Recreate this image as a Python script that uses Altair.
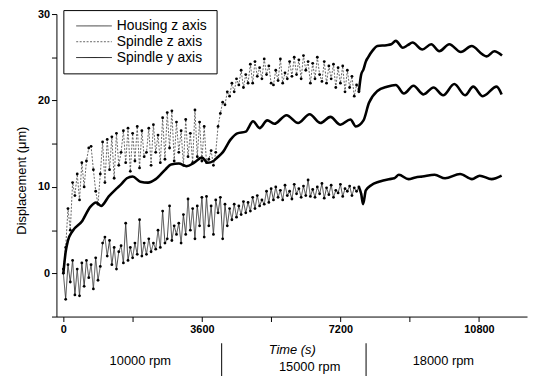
import altair as alt
import pandas as pd

series_names = ["Housing z axis", "Spindle z axis", "Spindle y axis"]

# noisy part sampled every 60 s from t = 0 to 7680 s
step = 60
upper_noisy = [
    0.5, 3.0, 7.5, 5.0, 10.5, 9.0,
    11.5, 8.5, 12.8, 10.0, 13.0, 14.5, 14.7, 12.0, 9.5, 8.0,
    11.5, 15.2, 10.5, 15.5, 12.0, 15.8, 11.0, 16.2, 12.5, 14.0,
    16.5, 12.8, 16.8, 11.8, 16.2, 13.0, 17.0, 12.2, 16.5, 13.5,
    14.0, 16.8, 12.5, 17.2, 14.0, 16.0, 12.8, 18.0, 13.2, 18.6,
    14.5, 18.8, 13.0, 17.5, 14.0, 16.5, 12.5, 17.8, 13.5, 16.2,
    12.8, 18.9, 13.5, 17.5, 13.0, 17.0, 12.8, 13.2, 14.2, 12.5,
    14.0, 17.0, 18.5, 19.8, 19.5, 21.0, 20.5, 22.0, 21.0, 22.5,
    21.8, 23.5, 21.5, 23.0, 22.0, 24.2, 22.0, 24.5, 22.8, 23.8,
    22.5, 24.8, 23.0, 24.0, 22.0, 21.8, 23.5, 22.3, 24.8, 22.0,
    23.2, 22.5, 24.5, 22.8, 25.0, 23.0, 24.7, 22.5, 25.2, 23.5,
    24.5, 22.0, 24.3, 22.5, 25.0, 23.0, 22.2, 24.5, 22.0, 24.0,
    22.5, 24.2, 21.5, 23.8, 22.0, 24.0, 21.0, 23.5, 21.5, 22.8,
    20.5, 21.8, 21.0,
]
upper_tail_t = [7680, 7740, 7800, 7860, 7920, 8040, 8160, 8400, 8520, 8640, 8820, 8950,
                9075, 9330, 9560, 9770, 10030, 10330, 10610, 10900, 11000, 11200, 11400]
upper_tail_v = [21.0, 23.0, 23.6, 24.5, 25.0, 25.8, 26.3, 26.4, 26.5, 26.9, 26.1, 26.4,
                26.7, 25.9, 26.5, 25.7, 26.5, 25.6, 26.3, 25.3, 25.1, 25.7, 25.2]

lower_noisy = [
    0.0, -3.0, 1.0, -1.0, 1.5, -2.5,
    0.5, -2.6, 1.2, -1.5, 1.5, -0.5, 1.0, -1.8, 1.8, -0.8,
    0.8, 3.5, 4.2, 2.0, 3.8, 1.0, 3.0, 0.5, 2.5, 3.2,
    1.2, 5.8, 1.5, 3.0, 1.8, 3.5, 2.2, 6.2, 2.0, 3.5,
    2.2, 4.0, 2.5, 3.5, 2.8, 5.0, 3.0, 7.2, 3.5, 4.0,
    7.8, 3.8, 5.5, 4.5, 5.8, 3.5, 6.8, 4.5, 8.6, 5.0,
    7.5, 4.0, 7.8, 5.5, 8.8, 4.2, 8.9, 5.5, 7.8, 4.5,
    8.5, 7.0, 8.8, 4.0, 8.0, 5.5, 7.5, 6.2, 8.0, 6.5,
    7.8, 6.8, 8.3, 7.0, 8.2, 7.2, 8.8, 7.5, 9.0, 7.8,
    8.5, 8.0, 9.5, 8.2, 9.8, 8.5, 10.0, 8.8, 9.6, 8.5,
    10.2, 9.0, 9.5, 8.6, 10.3, 9.2, 9.8, 8.8, 10.1, 9.0,
    10.8, 8.9, 9.7, 8.8, 10.0, 9.2, 10.4, 8.7, 9.9, 9.1,
    10.2, 8.8, 9.6, 9.3, 10.3, 8.9, 9.8, 9.5, 10.1, 9.0,
    9.9, 9.5, 10.0,
]
lower_tail_t = [7680, 7740, 7790, 7860, 8000, 8200, 8460, 8600, 8720, 8970, 9150, 9330,
                9650, 9920, 10310, 10620, 10820, 11130, 11390]
lower_tail_v = [10.0, 9.2, 8.0, 9.6, 10.2, 10.6, 10.9, 11.0, 11.4, 10.9, 11.1, 11.2,
                11.4, 11.0, 11.5, 10.9, 11.3, 10.9, 11.3]

middle_t = [0, 60, 120, 240, 480, 700, 850, 980, 1180, 1380, 1500, 1650, 1800, 2000,
            2200, 2400, 2650, 2800, 3000, 3200, 3400, 3600, 3750, 3900, 4000, 4140,
            4350, 4520, 4740, 4930, 5100, 5300, 5480, 5800, 6100, 6400, 6680, 6940,
            7200, 7460, 7600, 7800, 7940, 8160, 8410, 8640, 8850, 9100, 9360, 9620,
            9870, 10160, 10440, 10650, 10900, 11260, 11390]
middle_v = [0.0, 2.5, 3.8, 4.9, 6.0, 7.7, 8.2, 7.8, 8.9, 9.8, 10.3, 11.0, 11.2, 10.6,
            10.5, 10.9, 12.0, 12.6, 12.7, 12.4, 12.8, 13.4, 12.8, 13.0, 13.4, 14.0,
            15.5, 16.2, 16.4, 17.6, 16.8, 17.7, 17.3, 18.3, 17.4, 18.4, 17.4, 18.1,
            17.2, 17.8, 17.0, 17.7, 19.7, 21.1, 21.6, 21.8, 20.8, 21.7, 20.7, 21.5,
            20.6, 21.9, 20.6, 21.6, 20.5, 21.6, 20.7]

rpm_labels = ["10000 rpm", "15000 rpm", "18000 rpm"]
rpm_label_t = [2000, 6400, 9875]
rpm_boundaries = [4114, 7867]

noisy_rows = []
for i, v in enumerate(lower_noisy):
    noisy_rows.append((series_names[0], i * step, v))
for i, v in enumerate(upper_noisy):
    noisy_rows.append((series_names[1], i * step, v))
noisy_df = pd.DataFrame(noisy_rows, columns=["series", "t", "v"])

smooth_rows = []
for t, v in zip(lower_tail_t, lower_tail_v):
    smooth_rows.append((series_names[0], t, v))
for t, v in zip(upper_tail_t, upper_tail_v):
    smooth_rows.append((series_names[1], t, v))
for t, v in zip(middle_t, middle_v):
    smooth_rows.append((series_names[2], t, v))
smooth_df = pd.DataFrame(smooth_rows, columns=["series", "t", "v"])

FONT = "Liberation Sans"
xscale = alt.Scale(domain=[-180, 12050], nice=False, zero=False)
yscale = alt.Scale(domain=[-5, 30], nice=False, zero=False)

x_enc = alt.X("t:Q", scale=xscale, axis=alt.Axis(
    values=[0, 1800, 3600, 5400, 7200, 9000, 10800],
    labelExpr="datum.value % 3600 == 0 ? datum.label : ''",
    format="d", title="Time (s)", titleFontStyle="italic", titleFontWeight="normal",
    titleFontSize=13, titleFont=FONT, titlePadding=9,
    labelFont=FONT, labelFontSize=11, labelFontWeight="bold",
    tickSize=5, domainColor="black", tickColor="black", labelColor="black",
    titleColor="black", grid=False))
y_enc = alt.Y("v:Q", scale=yscale, axis=alt.Axis(
    values=[-5, 0, 5, 10, 15, 20, 25, 30],
    labelExpr="datum.value % 10 == 0 ? datum.label : ''",
    title="Displacement (\u03bcm)", titleFontWeight="normal", titleFontSize=13,
    titleFont=FONT, titlePadding=9, titleY=168,
    labelFont=FONT, labelFontSize=11, labelFontWeight="bold",
    tickSize=5, domainColor="black", tickColor="black", labelColor="black",
    titleColor="black", grid=False))

color_enc = alt.Color("series:N", title=None,
                      scale=alt.Scale(domain=series_names, range=["#333333", "#555555", "#000000"]))
width_enc = alt.StrokeWidth("series:N", title=None,
                            scale=alt.Scale(domain=series_names, range=[0.9, 0.9, 2.6]))
dash_enc = alt.StrokeDash("series:N", title=None,
                          scale=alt.Scale(domain=series_names, range=[[1, 0], [2, 1.5], [1, 0]]))

noisy_lines = alt.Chart(noisy_df).mark_line(clip=True).encode(
    x=x_enc, y=y_enc, color=color_enc, strokeWidth=width_enc, strokeDash=dash_enc,
    order=alt.Order("t:Q"),
)
smooth_lines = alt.Chart(smooth_df).mark_line(
    clip=True, interpolate="monotone", color="black", strokeWidth=2.6).encode(
    x="t:Q", y="v:Q", detail="series:N",
    order=alt.Order("t:Q"),
)

points = alt.Chart(noisy_df).mark_circle(size=8, color="black", opacity=1).encode(
    x="t:Q", y="v:Q", detail="series:N")

bounds = alt.Chart(pd.DataFrame({"t": rpm_boundaries})).mark_rule(
    color="black", strokeWidth=1).encode(
    x="t:Q", y=alt.value(333), y2=alt.value(368))

rpm_df = pd.DataFrame({"t": rpm_label_t, "label": rpm_labels})
rpm_outer = alt.Chart(rpm_df).transform_filter(
    "datum.label != '15000 rpm'").mark_text(
    font=FONT, fontSize=13, color="black", align="center", baseline="middle").encode(
    x="t:Q", y=alt.value(351), text="label:N")
rpm_mid = alt.Chart(rpm_df).transform_filter(
    "datum.label == '15000 rpm'").mark_text(
    font=FONT, fontSize=13, color="black", align="center", baseline="middle").encode(
    x="t:Q", y=alt.value(357), text="label:N")

chart = alt.layer(noisy_lines, smooth_lines, points, bounds, rpm_outer, rpm_mid).properties(
    width=476, height=306,
    autosize=alt.AutoSizeParams(type="none"),
    padding={"left": 49, "top": 4, "right": 2, "bottom": 58},
).configure_view(stroke=None).configure_legend(
    orient="none", legendX=7, legendY=-4,
    strokeColor="black", fillColor="white", padding=9, symbolOffset=3,
    symbolType="M-1,0H5", symbolSize=144, labelOffset=28,
    labelFont=FONT, labelFontSize=14, labelColor="black",
    rowPadding=2, symbolStrokeWidth=1,
)

chart.save("out.html", embed_options={"renderer": "svg", "actions": False})
